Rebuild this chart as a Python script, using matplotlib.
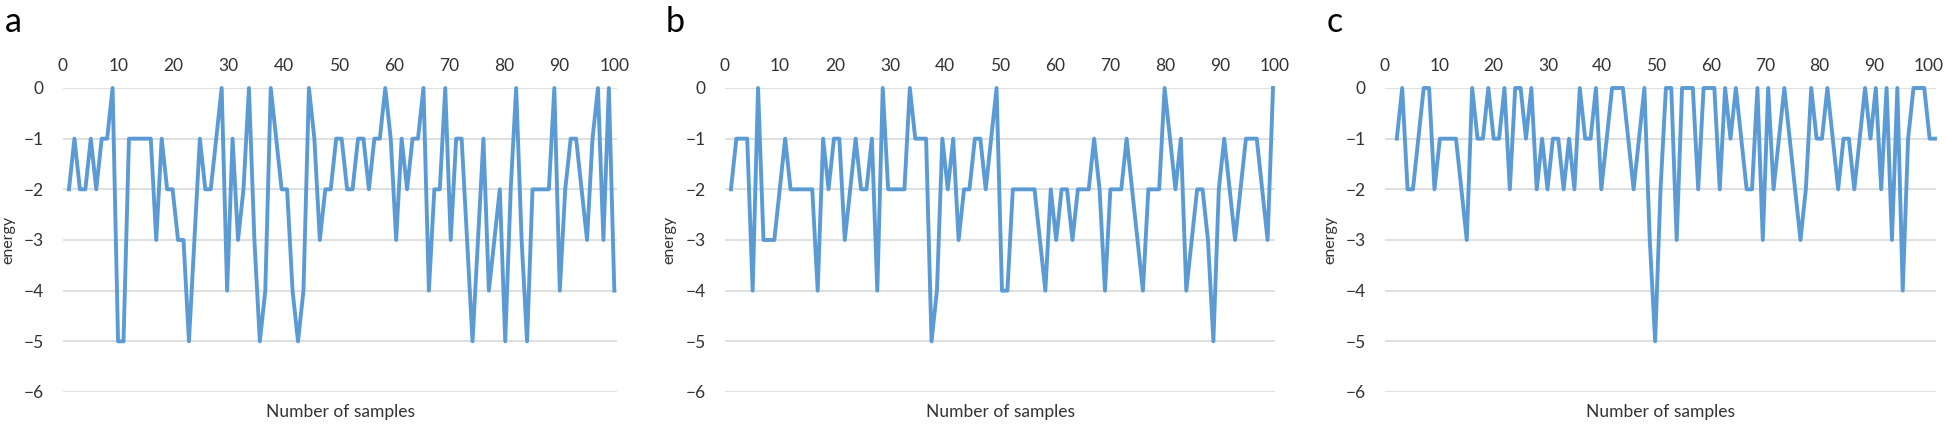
import matplotlib.pyplot as plt

# energy per sample (x = 0..100)
energy_a = [-2, -1, -2, -2, -1, -2, -1, -1, 0, -5,
            -5, -1, -1, -1, -1, -1, -3, -1, -2, -2,
            -3, -3, -5, -3, -1, -2, -2, -1, 0, -4,
            -1, -3, -2, 0, -3, -5, -4, 0, -1, -2,
            -2, -4, -5, -4, 0, -1, -3, -2, -2, -1,
            -1, -2, -2, -1, -1, -2, -1, -1, 0, -1,
            -3, -1, -2, -1, -1, 0, -4, -2, -2, 0,
            -3, -1, -1, -3, -5, -3, -1, -4, -3, -2,
            -5, -2, 0, -3, -5, -2, -2, -2, -2, 0,
            -4, -2, -1, -1, -2, -3, -1, 0, -3, 0,
            -4]

energy_b = [-2, -1, -1, -1, -4, 0, -3, -3, -3, -2,
            -1, -2, -2, -2, -2, -2, -4, -1, -2, -1,
            -1, -3, -2, -1, -2, -2, -1, -4, 0, -2,
            -2, -2, -2, 0, -1, -1, -1, -5, -4, -1,
            -2, -1, -3, -2, -2, -1, -1, -2, -1, 0,
            -4, -4, -2, -2, -2, -2, -2, -3, -4, -2,
            -3, -2, -2, -3, -2, -2, -2, -1, -2, -4,
            -2, -2, -2, -1, -2, -3, -4, -2, -2, -2,
            0, -1, -2, -1, -4, -3, -2, -2, -3, -5,
            -2, -1, -2, -3, -2, -1, -1, -1, -2, -3,
            0]

energy_c = [-1, 0, -2, -2, -1, 0, 0, -2, -1, -1,
            -1, -1, -2, -3, 0, -1, -1, 0, -1, -1,
            0, -2, 0, 0, -1, 0, -2, -1, -2, -1,
            -1, -2, -1, -2, 0, -1, -1, 0, -2, -1,
            0, 0, 0, -1, -2, -1, 0, -3, -5, -2,
            0, 0, -3, 0, 0, 0, -2, 0, 0, 0,
            -2, 0, -1, 0, -1, -2, -2, 0, -3, 0,
            -2, -1, 0, -1, -2, -3, -2, 0, -1, -1,
            0, -1, -2, -1, -1, -2, -1, 0, -1, 0,
            -2, 0, -3, 0, -4, -1, 0, 0, 0, -1,
            -1]

panel_labels = ['a', 'b', 'c']
x_ticks = [0, 10, 20, 30, 40, 50, 60, 70, 80, 90, 100]
y_ticks = [0, -1, -2, -3, -4, -5, -6]

plt.rcParams['font.family'] = ['Lato', 'DejaVu Sans']

W, H = 1946, 424
fig = plt.figure(figsize=(W / 100, H / 100), dpi=100)

# pixel layout of each panel: gridline extent, first/last point, label shifts
grid_px = [(63, 617), (725, 1275), (1385, 1936)]
data_px = [(66.7, 614.3), (726.7, 1273.3), (1387.7, 1935)]
tick_shift_px = [(-6, 0), (-6, 2), (-12, -7)]
letter_x = [5, 666, 1327]
text_col = '#333333'

for energy, label, (g0, g1), (d0, d1), (s0, s1), lx in zip(
        [energy_a, energy_b, energy_c], panel_labels, grid_px, data_px,
        tick_shift_px, letter_x):
    n = len(energy) - 1
    step = (d1 - d0) / n
    ax = fig.add_axes([g0 / W, 32 / H, (g1 - g0) / W, 304 / H])
    ax.plot(range(len(energy)), energy, color='#5B9BD5', lw=2.8,
            clip_on=False, zorder=3)
    ax.set_xlim((g0 - d0) / step, n + (g1 - d1) / step)
    ax.set_ylim(-6, 0)
    # Excel puts the top labels a little off the points
    ax.set_xticks([t + (s0 + (s1 - s0) * t / 100) / step for t in x_ticks])
    ax.set_xticklabels([str(t) for t in x_ticks])
    ax.set_yticks(y_ticks)
    ax.xaxis.tick_top()
    ax.tick_params(length=0, labelsize=12.5, colors=text_col)
    ax.tick_params(axis='x', pad=10)
    ax.tick_params(axis='y', pad=14)
    ax.grid(axis='y', color='#D9D9D9', lw=1.2)
    ax.set_axisbelow(True)
    for s in ax.spines.values():
        s.set_visible(False)
    ax.set_ylabel('energy', fontsize=11.5, color=text_col)
    ax.yaxis.set_label_coords(-(g0 - lx - 10) / (g1 - g0), 0.5)
    ax.text(0.5, -0.066, 'Number of samples', transform=ax.transAxes,
            ha='center', va='center', fontsize=12.5, color=text_col)
    fig.text(lx / W, 1 - 32 / H, label, fontsize=24.5, va='baseline',
             color='black')

fig.savefig('out.png', dpi=100)
